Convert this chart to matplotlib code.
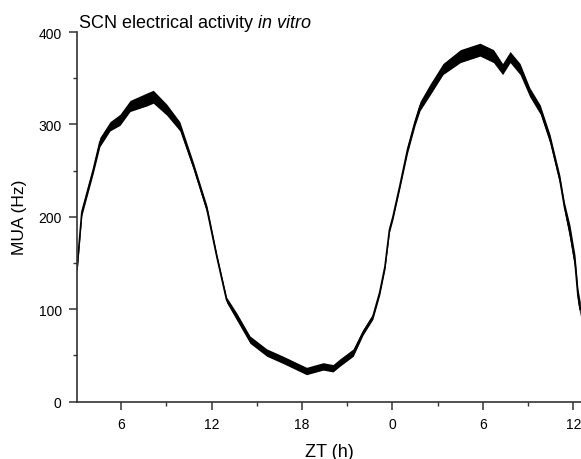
import matplotlib
matplotlib.use("Agg")
import matplotlib.pyplot as plt

plt.rcParams['font.family'] = ['Liberation Sans', 'DejaVu Sans']
plt.rcParams['mathtext.fontset'] = 'custom'
plt.rcParams['mathtext.rm'] = 'Liberation Sans'
plt.rcParams['mathtext.it'] = 'Liberation Sans:italic'

# ZT time (h, continuous across the two days) and multi-unit activity (Hz)
zt = [3.08, 3.4, 4.16, 4.6, 5.27, 5.93, 6.6, 7.7, 8.14, 9.03, 9.9, 10.8, 11.7, 12.35,
      13.0, 13.67, 14.55, 15.66, 16.76, 18.3, 19.4, 20.06, 20.5, 21.4, 22.05, 22.7,
      23.15, 23.5, 23.8, 24.03, 24.48, 25.0, 25.5, 25.83, 26.5, 27.35, 28.5, 29.8,
      30.7, 31.3, 31.8, 32.46, 33.1, 33.8, 34.45, 35.1, 35.4, 35.77, 36.1, 36.3, 36.45]
mua = [143, 205, 251, 281, 298, 305, 320, 327, 330, 316, 298, 255, 208, 157,
       110, 92, 67, 53, 45, 33, 38, 36, 42, 53, 75, 92,
       118, 146, 186, 200, 233, 273, 303, 320, 338, 360, 374, 381,
       374, 360, 373, 360, 335, 316, 284, 240, 211, 183, 151, 114, 100]
# half-width of the noise band (Hz)
spread = [4, 4, 4, 5, 5, 6, 6, 7, 7, 6, 5, 4, 4, 3,
          3, 4, 4, 4, 4, 4, 4, 4, 4, 4, 3, 3,
          3, 3, 3, 3, 3, 4, 4, 5, 6, 6, 7, 7,
          7, 6, 6, 6, 5, 5, 5, 5, 5, 8, 8, 8, 8]

xticks = [6, 12, 18, 24, 30, 36]
xticklabels = ['6', '12', '18', '0', '6', '12']
yticks = [0, 100, 200, 300, 400]

fig = plt.figure(figsize=(5.81, 4.6), dpi=100)
ax = fig.add_axes([0.1325, 0.125, 0.8675, 0.803])

lo = [m - s for m, s in zip(mua, spread)]
hi = [m + s for m, s in zip(mua, spread)]
ax.fill_between(zt, lo, hi, color='black', linewidth=0)
ax.plot(zt, mua, color='black', linewidth=1.2)

ax.set_xlim(3.08, 36.5)
ax.set_ylim(0, 400)
ax.set_xticks(xticks)
ax.set_xticklabels(xticklabels)
ax.set_xticks([9, 15, 21, 27, 33], minor=True)
ax.set_yticks(yticks)
ax.set_yticks([50, 150, 250, 350], minor=True)

for s in ['top', 'right']:
    ax.spines[s].set_visible(False)
for s in ['left', 'bottom']:
    ax.spines[s].set_color('#333333')
    ax.spines[s].set_linewidth(1.2)
ax.tick_params(which='major', length=6, width=1.1, color='#333333', labelsize=10, pad=5)
ax.tick_params(which='minor', length=3, width=1.0, color='#333333')

ax.set_xlabel('ZT (h)', fontsize=13, labelpad=9)
ax.set_ylabel('MUA (Hz)', fontsize=12.5, labelpad=8)
ax.text(0.003, 1.014, r'SCN electrical activity $\it{in\ vitro}$', transform=ax.transAxes,
        fontsize=13, ha='left', va='baseline')

fig.savefig('out.png', dpi=100)
